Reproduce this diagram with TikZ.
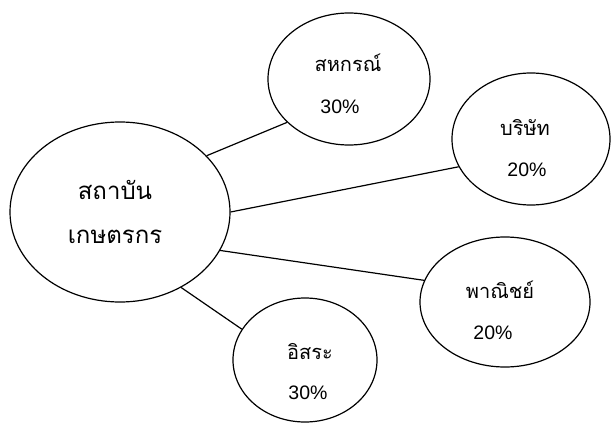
\documentclass[tikz,border=0pt]{standalone}
\usepackage{fontspec}
\setmainfont{Liberation Sans}
\newfontfamily\thaifont[Script=Thai]{Loma}
\usetikzlibrary{shapes.geometric}
\begin{document}
\begin{tikzpicture}[x=1pt,y=-1pt,
  bubble/.style={draw,line width=1.2pt,ellipse,inner sep=0pt},
  link/.style={line width=1.2pt},
  thai/.style={font=\thaifont\fontsize{20}{22}\selectfont},
  bigthai/.style={font=\thaifont\fontsize{24}{26}\selectfont},
  pct/.style={font=\fontsize{19.5}{22}\selectfont}]
\useasboundingbox (0,0) rectangle (613,423);
\node[bubble,minimum width=220pt,minimum height=180pt] (main) at (120,212) {};
\node[bubble,minimum width=162pt,minimum height=132pt] (coop) at (349,79) {};
\node[bubble,minimum width=158pt,minimum height=132pt] (comp) at (531,139) {};
\node[bubble,minimum width=170pt,minimum height=130pt] (comm) at (505,302) {};
\node[bubble,minimum width=144pt,minimum height=124pt] (ind) at (305,360) {};
\node[bigthai] (t1) at (115,190) {สถาบัน};
\node[bigthai] (t2) at (115,237) {เกษตรกร};
\node[thai] (c1) at (348,63) {สหกรณ์};
\node[pct] (c2) at (340,107) {30\%};
\node[thai] (p1) at (525,128) {บริษัท};
\node[pct] (p2) at (527,170) {20\%};
\node[thai] (m1) at (500,290) {พาณิชย์};
\node[pct] (m2) at (493,333) {20\%};
\node[thai] (i1) at (310,352) {อิสระ};
\node[pct] (i2) at (308,393) {30\%};
\draw[link] (main.33) -- (coop.215);
\draw[link] (main.0.5) -- (comp.201.5);
\draw[link] (main.-21) -- (comm.165);
\draw[link] (main.-51) -- (ind.154);
\end{tikzpicture}
\end{document}
